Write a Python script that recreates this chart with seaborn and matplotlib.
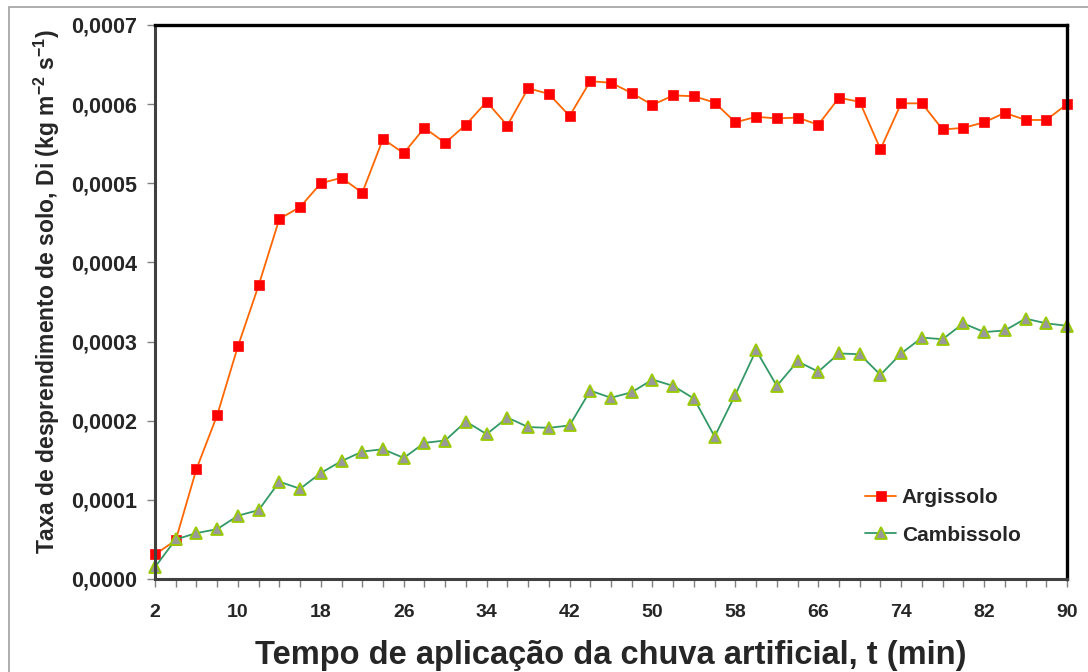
import pandas as pd
import seaborn as sns
import matplotlib.pyplot as plt
from matplotlib.ticker import FixedLocator, FuncFormatter, MultipleLocator
from matplotlib.patches import Rectangle

# tempo de aplicação (min)
tempo = [2, 4, 6, 8, 10, 12, 14, 16, 18, 20, 22, 24, 26, 28, 30, 32, 34, 36, 38, 40,
         42, 44, 46, 48, 50, 52, 54, 56, 58, 60, 62, 64, 66, 68, 70, 72, 74, 76, 78, 80,
         82, 84, 86, 88, 90]

# taxa de desprendimento (kg m-2 s-1)
argissolo = [0.000031, 0.000049, 0.000139, 0.000207, 0.000294, 0.000371, 0.000455, 0.000470,
             0.000500, 0.000507, 0.000488, 0.000556, 0.000538, 0.000570, 0.000551, 0.000574,
             0.000603, 0.000573, 0.000620, 0.000613, 0.000585, 0.000629, 0.000627, 0.000614,
             0.000599, 0.000611, 0.000610, 0.000602, 0.000577, 0.000584, 0.000582, 0.000583,
             0.000574, 0.000608, 0.000603, 0.000543, 0.000601, 0.000601, 0.000568, 0.000570,
             0.000577, 0.000589, 0.000580, 0.000580, 0.000600]

cambissolo = [0.000015, 0.000050, 0.000058, 0.000063, 0.000080, 0.000087, 0.000123, 0.000114,
              0.000134, 0.000149, 0.000161, 0.000164, 0.000153, 0.000172, 0.000175, 0.000199,
              0.000183, 0.000204, 0.000192, 0.000191, 0.000194, 0.000238, 0.000229, 0.000236,
              0.000252, 0.000244, 0.000228, 0.000180, 0.000233, 0.000289, 0.000244, 0.000275,
              0.000262, 0.000285, 0.000284, 0.000258, 0.000285, 0.000305, 0.000303, 0.000323,
              0.000312, 0.000314, 0.000329, 0.000323, 0.000320]

x_labels = [2, 10, 18, 26, 34, 42, 50, 58, 66, 74, 82, 90]

sns.set_style("white")
plt.rcParams['font.family'] = ['Liberation Sans', 'DejaVu Sans']
plt.rcParams['mathtext.fontset'] = 'custom'
plt.rcParams['mathtext.bf'] = 'Liberation Sans:bold'
plt.rcParams['mathtext.rm'] = 'Liberation Sans:bold'
plt.rcParams['mathtext.default'] = 'bf'

fig = plt.figure(figsize=(10.88, 6.72), dpi=100)
ax = fig.add_axes([155 / 1088, 93 / 672, 912 / 1088, 554 / 672])

df = pd.DataFrame({'tempo': tempo, 'Argissolo': argissolo, 'Cambissolo': cambissolo})

sns.lineplot(data=df, x='tempo', y='Argissolo', ax=ax, color='#FF6600', lw=1.3,
             marker='s', markersize=7.5, markerfacecolor='#FF0000',
             markeredgecolor='#FF1a1a', markeredgewidth=0.6, clip_on=False,
             label='Argissolo')
sns.lineplot(data=df, x='tempo', y='Cambissolo', ax=ax, color='#339966', lw=1.3,
             marker='^', markersize=8, markerfacecolor='#999999',
             markeredgecolor='#99CC00', markeredgewidth=1.3, clip_on=False,
             label='Cambissolo')

ax.set_xlim(2, 90)
ax.set_ylim(0, 0.0007)
ax.xaxis.set_major_locator(FixedLocator(x_labels))
ax.xaxis.set_minor_locator(MultipleLocator(2))
ax.yaxis.set_major_locator(MultipleLocator(0.0001))
ax.yaxis.set_major_formatter(FuncFormatter(lambda v, p: f"{v:.4f}".replace('.', ',')))

ax.tick_params(axis='both', which='both', direction='out', color='#808080', width=1,
               length=6, bottom=True, left=True)
ax.tick_params(axis='x', which='major', pad=12, labelsize=14)
ax.tick_params(axis='y', pad=7, labelsize=15.5)
for lab in ax.get_yticklabels() + ax.get_xticklabels():
    lab.set_fontweight('bold')

for side in ['top', 'right']:
    ax.spines[side].set_color('black')
    ax.spines[side].set_linewidth(2.4)
for side in ['left', 'bottom']:
    ax.spines[side].set_color('#404040')
    ax.spines[side].set_linewidth(2.2)

ax.set_xlabel('')
ax.set_ylabel('Taxa de desprendimento de solo, Di (kg m$^{-2}$ s$^{-1}$)',
              fontsize=16.5, fontweight='bold')
ax.yaxis.set_label_coords(-0.102, 0.519)

fig.text(611 / 1088, 8 / 672, 'Tempo de aplicação da chuva artificial, t (min)',
         ha='center', va='baseline', fontsize=23.5, fontweight='bold')

ax.legend(loc='center left', bbox_to_anchor=(0.779, 0.113), frameon=False,
          prop={'weight': 'bold', 'size': 15}, handlelength=1.45, handletextpad=0.3,
          labelspacing=0.9, borderpad=0, borderaxespad=0)

fig.patches.append(Rectangle((9 / 1088, -0.05), 1.1, 1.05 - 7 / 672, transform=fig.transFigure,
                             fill=False, edgecolor='#a0a0a0', lw=1.2))

fig.savefig('out.png', dpi=100)
